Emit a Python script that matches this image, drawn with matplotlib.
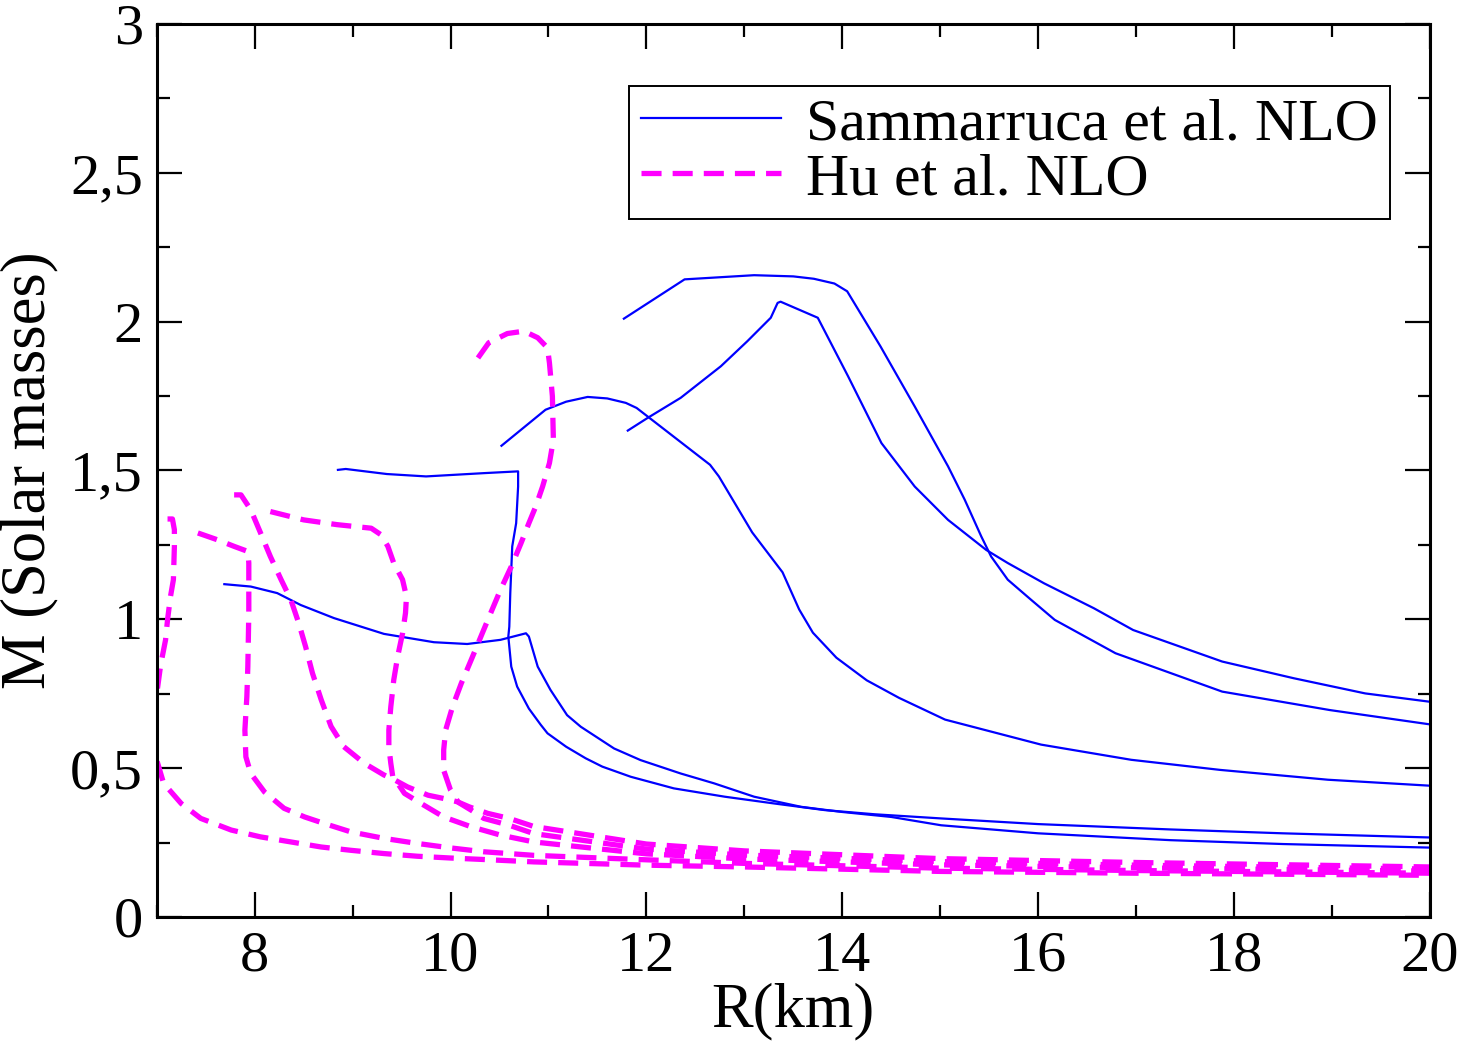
import matplotlib
matplotlib.use("Agg")
import matplotlib.pyplot as plt
from matplotlib.ticker import MultipleLocator, FuncFormatter

plt.rcParams['font.family'] = ['Liberation Serif', 'DejaVu Serif']

# Sammarruca et al. NLO (blue, solid) -- five M-R curves
b1_r = [7.69, 7.96, 8.23, 8.47, 8.81, 9.32, 9.83, 10.17, 10.51, 10.77, 10.80, 10.89, 11.02, 11.19, 11.33,
        11.67, 11.94, 12.35, 12.69, 13.10, 13.58, 13.99, 14.50, 15.01, 16.0, 17.35, 18.5, 20.0]
b1_m = [1.118, 1.110, 1.088, 1.048, 1.004, 0.951, 0.923, 0.917, 0.931, 0.953, 0.942, 0.841, 0.763, 0.678, 0.639,
        0.566, 0.527, 0.482, 0.449, 0.404, 0.370, 0.353, 0.336, 0.308, 0.281, 0.258, 0.245, 0.233]

b2_r = [8.85, 8.93, 9.35, 9.75, 10.34, 10.69, 10.69, 10.67, 10.63, 10.61, 10.60, 10.59, 10.62, 10.68, 10.80,
        10.92, 10.99, 11.18, 11.38, 11.55, 11.84, 12.28, 12.80, 13.31, 13.82, 14.33, 15.01, 16.0, 17.35, 18.5, 20.0]
b2_m = [1.502, 1.505, 1.488, 1.480, 1.491, 1.497, 1.446, 1.323, 1.245, 1.088, 0.975, 0.942, 0.841, 0.774, 0.700,
        0.646, 0.617, 0.572, 0.533, 0.505, 0.471, 0.432, 0.404, 0.381, 0.359, 0.345, 0.331, 0.312, 0.294, 0.281, 0.267]

b3_r = [10.52, 10.97, 11.18, 11.40, 11.60, 11.79, 11.90, 12.65, 12.74, 13.08, 13.39, 13.56, 13.70, 13.94, 14.25,
        14.58, 15.05, 16.03, 16.95, 17.86, 18.96, 20.0]
b3_m = [1.583, 1.704, 1.731, 1.747, 1.742, 1.727, 1.710, 1.519, 1.480, 1.292, 1.158, 1.033, 0.955, 0.871, 0.795,
        0.736, 0.663, 0.579, 0.528, 0.494, 0.461, 0.441]

b4_r = [11.77, 12.39, 13.10, 13.50, 13.71, 13.92, 14.05, 14.39, 14.74, 15.08, 15.25, 15.42, 15.52, 15.69, 15.93,
        16.17, 16.79, 17.88, 18.98, 20.0]
b4_m = [2.010, 2.142, 2.156, 2.152, 2.144, 2.128, 2.102, 1.917, 1.715, 1.514, 1.402, 1.278, 1.211, 1.133, 1.065,
        0.998, 0.886, 0.757, 0.695, 0.647]

b5_r = [11.81, 12.01, 12.35, 12.76, 13.03, 13.27, 13.34, 13.37, 13.75, 14.06, 14.40, 14.74, 15.08, 15.47,
        15.69, 16.06, 16.57, 16.97, 17.88, 18.61, 19.34, 20.0]
b5_m = [1.634, 1.676, 1.744, 1.850, 1.934, 2.013, 2.063, 2.067, 2.013, 1.816, 1.592, 1.446, 1.334, 1.233,
        1.189, 1.121, 1.037, 0.964, 0.858, 0.802, 0.751, 0.723]

# Hu et al. NLO (magenta, dashed) -- five M-R curves
h1_r = [7.11, 7.16, 7.18, 7.18, 7.17, 7.14, 7.11, 7.09, 7.04, 7.01, 6.99, 6.99, 7.07, 7.25, 7.45, 7.76, 8.06,
        8.37, 8.68, 8.98, 9.32, 9.66, 10.0, 10.34, 10.85, 12.0, 13.0, 15.0, 17.0, 20.0]
h1_m = [1.337, 1.337, 1.301, 1.245, 1.133, 1.076, 0.998, 0.931, 0.847, 0.774, 0.729, 0.538, 0.449, 0.381, 0.331,
        0.292, 0.269, 0.252, 0.235, 0.224, 0.213, 0.204, 0.198, 0.193, 0.185, 0.174, 0.168, 0.153, 0.147, 0.140]

h2_r = [7.42, 7.62, 7.79, 7.93, 7.94, 7.94, 7.93, 7.92, 7.90, 7.91, 7.96, 8.10, 8.30, 8.51, 8.71, 8.98, 9.32,
        9.66, 10.0, 10.34, 10.85, 12.0, 13.0, 15.0, 17.0, 20.0]
h2_m = [1.290, 1.267, 1.245, 1.228, 1.189, 1.021, 0.841, 0.740, 0.628, 0.538, 0.482, 0.420, 0.365, 0.336,
        0.314, 0.286, 0.264, 0.247, 0.232, 0.219, 0.207, 0.192, 0.180, 0.164, 0.156, 0.147]

h3_r = [7.79, 7.86, 7.96, 8.06, 8.16, 8.27, 8.37, 8.45, 8.52, 8.59, 8.68, 8.78, 8.91, 9.12, 9.32, 9.42, 9.56,
        9.77, 9.93, 10.07, 10.19, 10.38, 10.6, 10.85, 12.0, 13.0, 15.0, 17.0, 20.0]
h3_m = [1.418, 1.418, 1.368, 1.290, 1.211, 1.133, 1.065, 0.987, 0.908, 0.819, 0.729, 0.640, 0.572, 0.516,
        0.477, 0.462, 0.437, 0.409, 0.398, 0.387, 0.370, 0.348, 0.331, 0.304, 0.245, 0.222, 0.196, 0.183, 0.168]

h4_r = [8.16, 8.50, 8.84, 9.19, 9.29, 9.36, 9.42, 9.51, 9.55, 9.54, 9.51, 9.46, 9.42, 9.39, 9.37, 9.37, 9.39,
        9.41, 9.46, 9.53, 9.70, 9.93, 10.21, 10.51, 10.85, 12.0, 13.0, 15.0, 17.0, 20.0]
h4_m = [1.362, 1.334, 1.318, 1.306, 1.284, 1.245, 1.189, 1.133, 1.076, 1.021, 0.953, 0.875, 0.796, 0.706,
        0.628, 0.572, 0.516, 0.471, 0.449, 0.415, 0.381, 0.336, 0.303, 0.275, 0.252, 0.212, 0.195, 0.175,
        0.165, 0.154]

h5_r = [10.28, 10.39, 10.58, 10.75, 10.89, 10.99, 11.01, 11.04, 11.05, 11.01, 10.94, 10.87, 10.80, 10.72,
        10.62, 10.51, 10.41, 10.31, 10.21, 10.11, 10.02, 9.95, 9.93, 9.93, 10.0, 10.08, 10.21, 10.34, 10.6,
        10.85, 12.0, 13.0, 15.0, 17.0, 20.0]
h5_m = [1.878, 1.929, 1.960, 1.968, 1.946, 1.912, 1.861, 1.749, 1.603, 1.525, 1.446, 1.379, 1.323, 1.256,
        1.177, 1.099, 1.021, 0.942, 0.863, 0.785, 0.706, 0.628, 0.561, 0.493, 0.426, 0.385, 0.359, 0.331,
        0.308, 0.280, 0.228, 0.208, 0.186, 0.174, 0.161]

blue_curves = [(b1_r, b1_m), (b2_r, b2_m), (b3_r, b3_m), (b4_r, b4_m), (b5_r, b5_m)]
magenta_curves = [(h1_r, h1_m), (h2_r, h2_m), (h3_r, h3_m), (h4_r, h4_m), (h5_r, h5_m)]

fig = plt.figure(figsize=(14.65, 10.42), dpi=100)
ax = fig.add_axes([0.107, 0.120, 0.869, 0.857])

for i, (r, m) in enumerate(blue_curves):
    ax.plot(r, m, color='#0000ff', lw=1.6, label='Sammarruca et al. NLO' if i == 0 else None)
for i, (r, m) in enumerate(magenta_curves):
    ax.plot(r, m, color='#ff00ff', lw=3.8, dashes=(3.8, 2.1),
            label='Hu et al. NLO' if i == 0 else None)

ax.set_xlim(7, 20)
ax.set_ylim(0, 3)
ax.xaxis.set_major_locator(MultipleLocator(2))
ax.xaxis.set_minor_locator(MultipleLocator(1))
ax.yaxis.set_major_locator(MultipleLocator(0.5))
ax.yaxis.set_minor_locator(MultipleLocator(0.25))
ax.yaxis.set_major_formatter(FuncFormatter(lambda v, p: ('%g' % v).replace('.', ',')))

ax.tick_params(which='both', direction='in', top=True, right=True, width=1.6, labelsize=42)
ax.tick_params(which='major', length=18, pad=10)
ax.tick_params(which='minor', length=9)
for s in ax.spines.values():
    s.set_linewidth(2.2)

ax.set_xlabel('R(km)', fontsize=45, labelpad=0)
ax.set_ylabel('M (Solar masses)', fontsize=45, labelpad=8)

leg = ax.legend(loc='upper right', bbox_to_anchor=(0.9686, 0.931), fontsize=43, frameon=True,
                fancybox=False, edgecolor='black', framealpha=1, handlelength=2.35,
                handletextpad=0.42, labelspacing=0.0, borderpad=0.2, borderaxespad=0)
leg.get_frame().set_linewidth(1.4)

plt.savefig('out.png', dpi=100)
